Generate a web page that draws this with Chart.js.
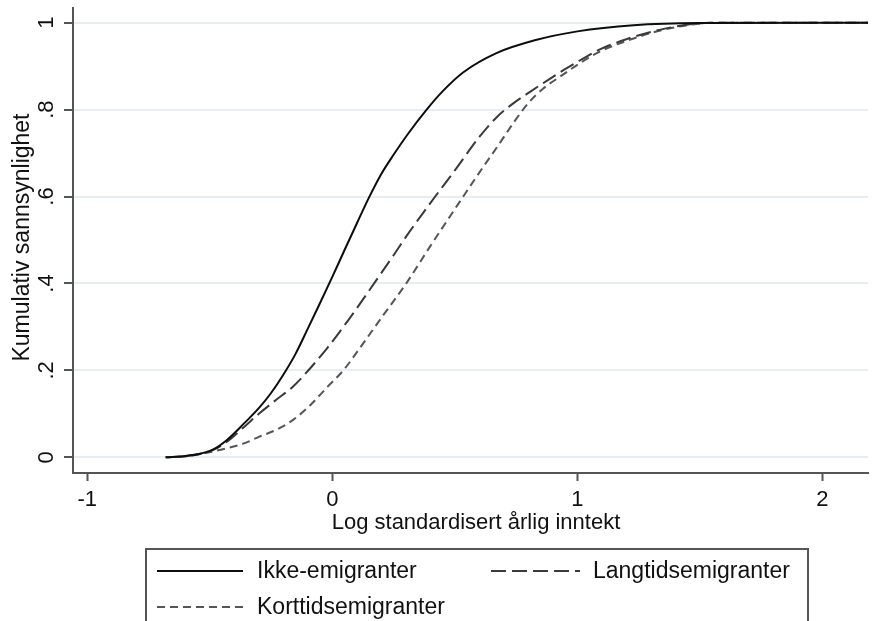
<!DOCTYPE html>
<html>
<head>
<meta charset="utf-8">
<script src="https://cdn.jsdelivr.net/npm/chart.js@4"></script>
<style>
  html, body { margin: 0; padding: 0; background: #ffffff; }
  canvas { display: block; }
</style>
</head>
<body>
<canvas id="c" width="872" height="621"></canvas>
<script>
// Cumulative distribution of log standardised annual income, by group
const seriesNames = ['Ikke-emigranter', 'Langtidsemigranter', 'Korttidsemigranter'];

const ikkeX = [-0.68, -0.6, -0.55, -0.49, -0.43, -0.36, -0.3, -0.25, -0.2, -0.15, -0.1, -0.05, 0, 0.05, 0.1, 0.15, 0.2, 0.25, 0.31, 0.385, 0.45, 0.535, 0.67, 0.83, 1.0, 1.23, 1.5, 2.2];
const ikkeY = [0, 0.003, 0.007, 0.017, 0.04, 0.078, 0.113, 0.148, 0.19, 0.238, 0.296, 0.355, 0.415, 0.477, 0.538, 0.598, 0.652, 0.696, 0.745, 0.8, 0.842, 0.886, 0.93, 0.96, 0.98, 0.994, 0.999, 1];

const langX = [-0.68, -0.6, -0.49, -0.43, -0.36, -0.3, -0.23, -0.16, -0.09, -0.02, 0.045, 0.1, 0.195, 0.25, 0.304, 0.4, 0.5, 0.6, 0.67, 0.74, 0.81, 0.88, 0.95, 1.01, 1.09, 1.2, 1.34, 1.47, 1.55, 2.2];
const langY = [0, 0.003, 0.016, 0.036, 0.07, 0.1, 0.132, 0.163, 0.205, 0.252, 0.3, 0.343, 0.42, 0.465, 0.51, 0.585, 0.66, 0.737, 0.782, 0.815, 0.842, 0.868, 0.893, 0.913, 0.938, 0.962, 0.984, 0.997, 1, 1];

const kortX = [-0.68, -0.6, -0.49, -0.43, -0.36, -0.3, -0.23, -0.16, -0.09, -0.02, 0.045, 0.113, 0.208, 0.304, 0.4, 0.5, 0.6, 0.68, 0.74, 0.8, 0.86, 0.93, 1.0, 1.09, 1.2, 1.34, 1.47, 1.55, 2.2];
const kortY = [0, 0.002, 0.013, 0.021, 0.032, 0.047, 0.063, 0.086, 0.12, 0.162, 0.2, 0.252, 0.327, 0.402, 0.486, 0.571, 0.655, 0.72, 0.77, 0.815, 0.848, 0.876, 0.903, 0.933, 0.958, 0.982, 0.996, 1, 1];

const xTicks = [-1, 0, 1, 2];
const xTickLabels = ['-1', '0', '1', '2'];
const yTicks = [0, 0.2, 0.4, 0.6, 0.8, 1];
const yTickLabels = ['0', '.2', '.4', '.6', '.8', '1'];

const xTitle = 'Log standardisert årlig inntekt';
const yTitle = 'Kumulativ sannsynlighet';

const FONT = '"Liberation Sans", Arial, sans-serif';
const AXIS_GREY = '#555555';
const TEXT_COLOR = '#111111';

const styles = [
  { color: '#0d0d0d', dash: [] },
  { color: '#3a3a3a', dash: [15, 6] },
  { color: '#555555', dash: [8, 5] }
];

function toPoints(xs, ys) {
  return xs.map((x, i) => ({ x: x, y: ys[i] }));
}

const seriesData = [toPoints(ikkeX, ikkeY), toPoints(langX, langY), toPoints(kortX, kortY)];

// Text, rotated y labels and the legend box
const textPlugin = {
  id: 'stataText',
  afterDraw(chart) {
    const ctx = chart.ctx;
    const xs = chart.scales.x;
    const ys = chart.scales.y;
    ctx.save();
    ctx.fillStyle = TEXT_COLOR;

    // x tick labels
    ctx.font = '22px ' + FONT;
    ctx.textAlign = 'center';
    ctx.textBaseline = 'alphabetic';
    xTicks.forEach((v, i) => {
      ctx.fillText(xTickLabels[i], xs.getPixelForValue(v), 506);
    });

    // y tick labels, rotated
    yTicks.forEach((v, i) => {
      ctx.save();
      ctx.translate(53, ys.getPixelForValue(v));
      ctx.rotate(-Math.PI / 2);
      ctx.textAlign = 'center';
      ctx.textBaseline = 'alphabetic';
      ctx.fillText(yTickLabels[i], 0, 0);
      ctx.restore();
    });

    // axis titles
    ctx.font = '22px ' + FONT;
    ctx.textAlign = 'center';
    ctx.fillText(xTitle, 476, 529);

    ctx.save();
    ctx.font = '23px ' + FONT;
    ctx.translate(29, (chart.chartArea.top + chart.chartArea.bottom) / 2 - 3);
    ctx.rotate(-Math.PI / 2);
    ctx.textAlign = 'center';
    ctx.fillText(yTitle, 0, 0);
    ctx.restore();

    // legend
    ctx.strokeStyle = AXIS_GREY;
    ctx.lineWidth = 2;
    ctx.setLineDash([]);
    ctx.strokeRect(146, 549, 662, 90);

    const entries = [
      { i: 0, x0: 157, x1: 243, tx: 257, y: 571, base: 578 },
      { i: 1, x0: 491, x1: 580, tx: 593, y: 571, base: 578 },
      { i: 2, x0: 157, x1: 243, tx: 257, y: 607, base: 614 }
    ];
    ctx.font = '23px ' + FONT;
    ctx.textAlign = 'left';
    entries.forEach(e => {
      const st = styles[e.i];
      ctx.strokeStyle = st.color;
      ctx.lineWidth = 2;
      ctx.setLineDash(st.dash);
      ctx.beginPath();
      ctx.moveTo(e.x0, e.y);
      ctx.lineTo(e.x1, e.y);
      ctx.stroke();
      ctx.fillStyle = TEXT_COLOR;
      ctx.fillText(seriesNames[e.i], e.tx, e.base);
    });
    ctx.restore();
  }
};

new Chart(document.getElementById('c'), {
  type: 'line',
  data: {
    datasets: seriesData.map((pts, i) => ({
      label: seriesNames[i],
      data: pts,
      borderColor: styles[i].color,
      borderDash: styles[i].dash,
      borderWidth: 2,
      pointRadius: 0,
      fill: false,
      cubicInterpolationMode: 'monotone'
    }))
  },
  options: {
    responsive: false,
    animation: false,
    devicePixelRatio: 1,
    layout: { padding: { left: 0, right: 4, top: 8, bottom: 0 } },
    plugins: { legend: { display: false }, tooltip: { enabled: false } },
    scales: {
      x: {
        type: 'linear',
        min: -1.0584,
        max: 2.1865,
        afterBuildTicks: (s) => { s.ticks = xTicks.map(v => ({ value: v })); },
        afterFit: (s) => { s.height = 148; },
        ticks: { display: false },
        grid: { drawOnChartArea: false, drawTicks: true, tickLength: 8, tickColor: AXIS_GREY, tickWidth: 2 },
        border: { display: true, color: AXIS_GREY, width: 2 }
      },
      y: {
        type: 'linear',
        min: -0.0361,
        max: 1.0338,
        afterBuildTicks: (s) => { s.ticks = yTicks.map(v => ({ value: v })); },
        afterFit: (s) => { s.width = 73; },
        ticks: { display: false },
        grid: { color: '#e6eef1', lineWidth: 2, drawTicks: true, tickLength: 9, tickColor: AXIS_GREY, tickWidth: 2 },
        border: { display: true, color: AXIS_GREY, width: 2 }
      }
    }
  },
  plugins: [textPlugin]
});
</script>
</body>
</html>
